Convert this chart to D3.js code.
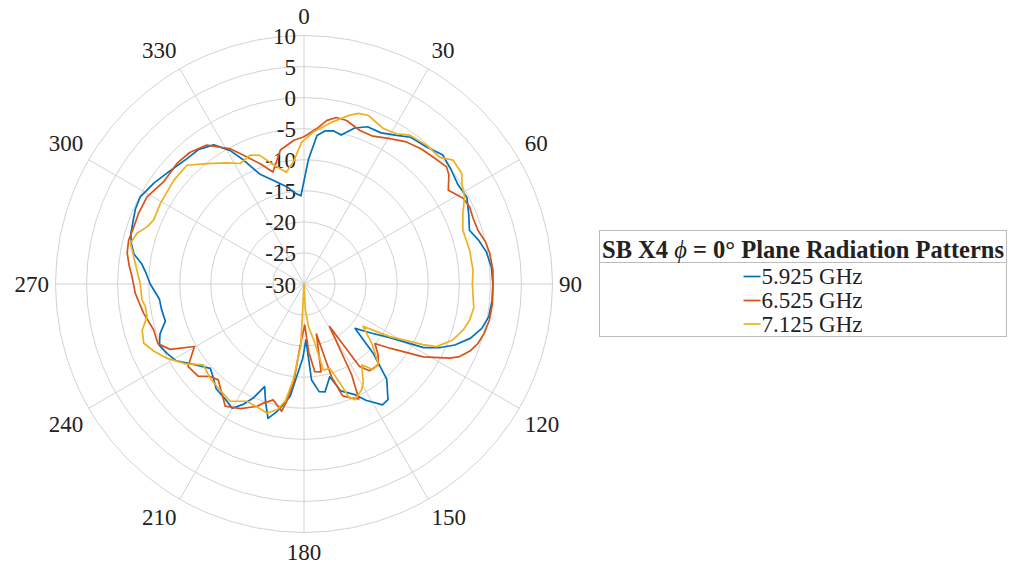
<!DOCTYPE html>
<html>
<head>
<meta charset="utf-8">
<script src="https://cdn.jsdelivr.net/npm/d3@7"></script>
<style>
  html, body { margin: 0; padding: 0; background: #fff; }
  svg text { font-family: "Liberation Serif", "Times New Roman", serif; fill: #222; }
</style>
</head>
<body>
<svg id="chart" width="1009" height="568"></svg>
<script>
// Measured gain patterns (dB) versus azimuth angle (degrees, clockwise from 0 at top)
const angles5925 = [2,5,8,11,14,18,22,27,32,36,42,47,52,57,62,67,72,76,80,85,90,95,100,104,108,112,115,118,122,126,131,135,139,144,147,152,155,161,164.5,169,172,175.5,178,181,184,187,192,195,198,201,204,207,210,214,220,224,228,234,239,243,247,251,255,260,264,270,274,277,280,283,286,290,294,298,304,310,317,322,327,331,334,338,345,350,355,358];
const gain5925 = [-10,-6,-5.1,-4.9,-5.3,-3.6,-2.7,-2.7,-1.8,-0.8,-0.4,0.5,0,-0.5,-0.3,-1.2,-2,-1,-0.2,0.3,0.4,0.4,0.2,-0.5,-1.8,-3.8,-5.8,-8.2,-13.7,-16.5,-19.1,-14.3,-9.7,-7,-6.8,-8.8,-10.3,-11.8,-14.5,-12.3,-12.5,-14.5,-21,-18,-15.6,-11.8,-9,-7.6,-10,-12.3,-9.9,-8.2,-6.9,-7.5,-8,-9,-9.7,-8,-6,-5.3,-4.7,-5.5,-6.9,-6.7,-6.6,-5.25,-4.5,-3.7,-2.2,-1.5,-1,-0.7,-0.3,-0.15,-0.9,-1.75,-2.4,-2.5,-3.3,-5.4,-7.8,-10.9,-13,-14.1,-15.4,-15.8];

const angles6525 = [0,4.7,8,11,14.6,20,25,30.6,35.8,41,46,50.6,53,57,61.7,65,69,72.8,77,80.6,86,91,96,101,105,108.8,112,115,117,121.4,126.8,130,133.7,137.5,143,146,149,152.3,154.5,157.5,161,163.5,166,169,173,176,179,183.7,186,188.4,190,194.8,198.8,201,207,212.8,217,221.8,225.4,229,234.6,240.3,244,247.8,253,259.7,266.8,272.4,276,280,284,288,293,299,306,313.5,319,325,331.4,335.8,340,344.5,350,356];
const gain6525 = [-6.3,-4.9,-3.4,-2.7,-2.8,-3.7,-3.75,-2.8,-1.8,-1.2,-0.8,-0.3,-0.8,-2.3,-0.9,-0.6,-0.8,-0.7,0,0.3,0.5,0.4,0.5,0.4,0.1,-0.4,-1.2,-2.35,-3.7,-7.5,-12.75,-15.1,-13.5,-12.3,-12.5,-14,-22,-13.5,-9.5,-10.1,-11,-14.5,-21.7,-15.6,-15.8,-19,-23.4,-19.9,-14,-10.9,-9.2,-10.7,-9.75,-8.9,-7.5,-6.6,-8,-9.3,-8.8,-7.4,-7.1,-9.7,-6,-4.6,-4.7,-3.75,-2.8,-2.3,-1.7,-1.1,-0.9,-1.1,-1.05,-1.1,-2.05,-1.8,-1.95,-2.7,-5.2,-7.6,-9.4,-11.3,-8.1,-6.8];

const angles7125 = [3.5,10,15,17.6,21,24,27,31.6,35.4,41.4,47,50.3,55,58,61.5,66,71.3,78.4,85.3,90,94.3,98,102.2,106,110.6,115.3,117,121.5,125.7,131.2,136.9,141,144.5,149,151.4,156.3,158.5,160,163,167.4,169.5,174,177,180,183,186.4,189,192,196,198.6,206,212.2,218,224.9,231.2,236,241.6,246,249.7,254,258.3,262,264.4,270,274.8,281.2,283.2,286.9,290,293,299.3,308.5,315.4,321.1,327.5,332.1,337.3,341,346,351,355,359];
const gain7125 = [-5.5,-3.5,-1.9,-1.2,-0.95,-1.5,-1.9,-1.6,-0.6,-0.2,-0.1,1.2,1,0,-0.6,-2,-3,-2.8,-2.7,-2.9,-2.7,-2.4,-2.7,-3.3,-4.4,-6.4,-8.5,-13.8,-18.3,-15.5,-12.5,-12.3,-14,-11.5,-10.6,-9.65,-10.55,-13,-15.8,-15.8,-20.3,-23.1,-26,-31,-20,-14.5,-11,-9.3,-8.4,-8.65,-9,-7.7,-8.2,-8.6,-9.2,-7,-4.9,-3.5,-2.5,-2.9,-4.2,-4.2,-3.8,-3.65,-3,-1.8,-1.3,-1.9,-3.1,-3.7,-3.5,-3.2,-3.15,-5.1,-6.9,-8.05,-7.5,-8.1,-10.3,-11.8,-10.3,-7.2];

const seriesNames = ["5.925 GHz", "6.525 GHz", "7.125 GHz"];
const seriesColors = ["#0072BD", "#D95319", "#EDB120"];
const radialTicks = [-30, -25, -20, -15, -10, -5, 0, 5, 10];
const angleTicks = [0, 30, 60, 90, 120, 150, 180, 210, 240, 270, 300, 330];
const legendTitle = ["SB X4 ", "ϕ", " = 0° Plane Radiation Patterns"];

const svg = d3.select("#chart");
const cx = 304, cy = 284, R = 248.5;
const rad = d3.scaleLinear().domain([-30, 10]).range([0, R]).clamp(true);
const toRad = d => d * Math.PI / 180;

const g = svg.append("g").attr("transform", `translate(${cx},${cy})`);

// grid rings
g.selectAll("circle.ring").data(radialTicks.slice(1)).join("circle")
  .attr("class", "ring").attr("r", d => rad(d))
  .attr("fill", "none").attr("stroke", "#d2d2d2").attr("stroke-width", 1);

// spokes
g.selectAll("line.spoke").data(angleTicks).join("line")
  .attr("x1", 0).attr("y1", 0)
  .attr("x2", d => R * Math.sin(toRad(d)))
  .attr("y2", d => -R * Math.cos(toRad(d)))
  .attr("stroke", "#d2d2d2").attr("stroke-width", 1);

// angle labels: anchored just outside the outer ring, aligned away from the centre
const fs = 23;
const labelGap = 6.5, halfBox = 13;
g.selectAll("text.ang").data(angleTicks).join("text")
  .attr("class", "ang")
  .attr("font-size", fs)
  .attr("dominant-baseline", "central")
  .text(d => d)
  .each(function(d) {
    const a = toRad(d), s = Math.sin(a), c = Math.cos(a);
    const rr = R + labelGap;
    const anchor = Math.abs(s) < 1e-6 ? "middle" : (s > 0 ? "start" : "end");
    const dy = Math.abs(c) < 1e-6 ? 0 : (c > 0 ? -halfBox : halfBox);
    d3.select(this)
      .attr("text-anchor", anchor)
      .attr("x", rr * s)
      .attr("y", -rr * c + dy);
  });

// radial tick labels along the 0° spoke
g.selectAll("text.rad").data(radialTicks).join("text")
  .attr("class", "rad")
  .attr("font-size", fs)
  .attr("text-anchor", "end")
  .attr("dominant-baseline", "central")
  .attr("x", -8)
  .attr("y", d => -rad(d) + 1)
  .text(d => d);

// pattern traces
const traces = [
  { a: angles5925, v: gain5925 },
  { a: angles6525, v: gain6525 },
  { a: angles7125, v: gain7125 }
];
const line = d3.lineRadial()
  .angle(d => toRad(d[0]))
  .radius(d => rad(d[1]))
  .curve(d3.curveLinearClosed);

traces.forEach((t, i) => {
  const pts = t.a.map((ang, k) => [ang, t.v[k]]);
  g.append("path")
    .datum(pts)
    .attr("d", line)
    .attr("fill", "none")
    .attr("stroke", seriesColors[i])
    .attr("stroke-width", 1.7)
    .attr("stroke-linejoin", "round");
});

// legend
const lx = 599.5, ly = 230.5, lw = 407, lh = 106;
const lg = svg.append("g");
lg.append("rect").attr("x", lx).attr("y", ly).attr("width", lw).attr("height", lh)
  .attr("fill", "#fff").attr("stroke", "#bcbcbc").attr("stroke-width", 1);
lg.append("line").attr("x1", lx).attr("x2", lx + lw).attr("y1", 262.5).attr("y2", 262.5)
  .attr("stroke", "#bcbcbc").attr("stroke-width", 1);

const title = lg.append("text")
  .attr("x", lx + lw / 2).attr("y", 248.5)
  .attr("text-anchor", "middle").attr("dominant-baseline", "central")
  .attr("font-size", 24.5).attr("font-weight", "bold").attr("fill", "#111");
title.append("tspan").text(legendTitle[0]);
title.append("tspan").attr("font-style", "italic").attr("font-weight", "normal").text(legendTitle[1]);
title.append("tspan").text(legendTitle[2]);

const entryY = [276.5, 300.5, 324];
seriesNames.forEach((name, i) => {
  const t = lg.append("text")
    .attr("font-size", 23).attr("dominant-baseline", "central")
    .attr("y", entryY[i]).text(name);
  const tw = t.node().getComputedTextLength();
  const sw = 17, gap = 1;
  const x0 = lx + lw / 2 - (sw + gap + tw) / 2;
  t.attr("x", x0 + sw + gap);
  lg.append("line").attr("x1", x0).attr("x2", x0 + sw)
    .attr("y1", entryY[i]).attr("y2", entryY[i])
    .attr("stroke", seriesColors[i]).attr("stroke-width", 1.7);
});
</script>
</body>
</html>
